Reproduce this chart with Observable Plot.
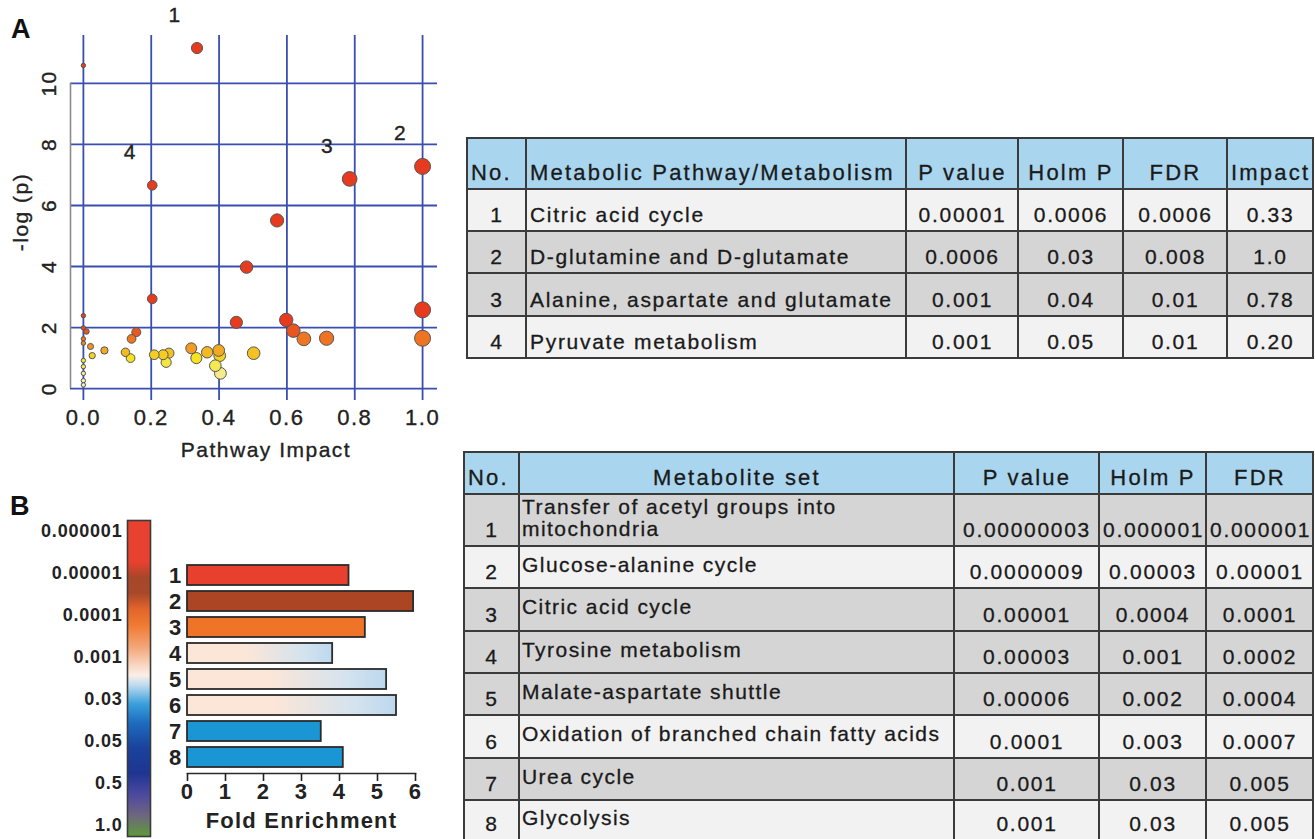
<!DOCTYPE html>
<html>
<head>
<meta charset="utf-8">
<script src="https://cdn.jsdelivr.net/npm/d3@7"></script>
<script src="https://cdn.jsdelivr.net/npm/@observablehq/plot@0.6"></script>
<style>
html,body{margin:0;padding:0;background:#fff;}
body{font-family:"Liberation Sans",Arial,Helvetica,sans-serif;color:#1e1e1e;}
#root{position:relative;width:1315px;height:839px;overflow:hidden;}
#root > *{position:absolute;}
.panel{font-weight:bold;font-size:27px;line-height:1;color:#111;}
table{border-collapse:collapse;table-layout:fixed;font-size:21px;letter-spacing:1.7px;color:#1a1a1a;-webkit-text-stroke:0.3px #1a1a1a;}
table td, table th{border:2px solid #3b3b3b;padding:0 2px 4px 3px;vertical-align:bottom;white-space:nowrap;overflow:visible;font-weight:normal;line-height:22px;box-sizing:border-box;}
table th{background:#a9d5ee;font-size:22px;letter-spacing:2.2px;}
.c{text-align:center;}
.l{text-align:left;}
tr.g td{background:#d5d5d5;}
tr.w td{background:#f2f2f2;}
td.nm{vertical-align:middle;padding:0 0 5px 2px;letter-spacing:1.45px;}
#plotA text{stroke:#222;stroke-width:0.35px;}
</style>
</head>
<body>
<svg width="0" height="0" style="position:absolute">
<defs>
<linearGradient id="cbar" x1="0" y1="0" x2="0" y2="1">
<stop offset="0" stop-color="#e8412f"/>
<stop offset="0.13" stop-color="#e8412f"/>
<stop offset="0.18" stop-color="#a8462a"/>
<stop offset="0.23" stop-color="#a8482a"/>
<stop offset="0.28" stop-color="#e2642c"/>
<stop offset="0.33" stop-color="#f07a30"/>
<stop offset="0.40" stop-color="#f3a578"/>
<stop offset="0.46" stop-color="#f8d8c4"/>
<stop offset="0.49" stop-color="#fbeee6"/>
<stop offset="0.52" stop-color="#c0dcf0"/>
<stop offset="0.58" stop-color="#3aa0dc"/>
<stop offset="0.64" stop-color="#1d6cc0"/>
<stop offset="0.72" stop-color="#1a429c"/>
<stop offset="0.80" stop-color="#1e3592"/>
<stop offset="0.87" stop-color="#4f4a9e"/>
<stop offset="0.93" stop-color="#6e6482"/>
<stop offset="1" stop-color="#5e9a38"/>
</linearGradient>
<linearGradient id="fade" x1="0" y1="0" x2="1" y2="0">
<stop offset="0" stop-color="#fbe6d8"/>
<stop offset="0.42" stop-color="#fbe6d8"/>
<stop offset="0.8" stop-color="#d4e3ef"/>
<stop offset="1" stop-color="#bcd8ee"/>
</linearGradient>
</defs>
</svg>
<div id="root">
  <div class="panel" style="left:11px;top:16px">A</div>
  <div class="panel" style="left:10px;top:493px">B</div>
</div>
<script>
// ---------- Panel A: pathway impact scatter ----------
const impactA = [0.335, 0.0, 0.203, 0.203, 0.481, 0.571, 0.785, 1.0, 1.0, 1.0, 0.451, 0.598, 0.619, 0.65, 0.717, 0.502,
  0.0, 0.0, 0.009, 0.0, 0.0, 0.0, 0.0, 0.0, 0.0, 0.0, 0.021, 0.026, 0.062, 0.124, 0.139, 0.142, 0.156,
  0.209, 0.235, 0.252, 0.244, 0.318, 0.333, 0.365, 0.399, 0.402, 0.389, 0.404];
const logPA = [11.16, 10.59, 6.66, 2.94, 3.98, 5.51, 6.87, 7.28, 2.58, 1.65, 2.17, 2.25, 1.90, 1.63, 1.65, 1.16,
  2.39, 1.99, 1.87, 1.63, 1.49, 0.92, 0.72, 0.50, 0.26, 0.12, 1.38, 1.08, 1.25, 1.19, 1.00, 1.63, 1.85,
  1.11, 1.11, 1.16, 0.86, 1.32, 1.00, 1.19, 1.25, 1.08, 0.75, 0.50];
const labelA = ["1", "", "4", "", "", "", "3", "2"];
const xTicksA = [0, 0.2, 0.4, 0.6, 0.8, 1.0];
const yTicksA = [0, 2, 4, 6, 8, 10];

// ---------- Panel B: enrichment bars ----------
const setNo = ["1", "2", "3", "4", "5", "6", "7", "8"];
const foldEnrichment = [4.25, 5.95, 4.68, 3.82, 5.24, 5.5, 3.52, 4.1];
const barColors = ["#e8402e", "#ac4524", "#ef7428", "url(#fade)", "url(#fade)", "url(#fade)", "#1a96d4", "#1a96d4"];
const xTicksB = [0, 1, 2, 3, 4, 5, 6];
const colorbarLabels = ["0.000001", "0.00001", "0.0001", "0.001", "0.03", "0.05", "0.5", "1.0"];

// ---------- Table 1 ----------
const pathHeaders = ["No.", "Metabolic Pathway/Metabolism", "P value", "Holm P", "FDR", "Impact"];
const pathNo = ["1", "2", "3", "4"];
const pathName = ["Citric acid cycle", "D-glutamine and D-glutamate", "Alanine, aspartate and glutamate", "Pyruvate metabolism"];
const pathP = ["0.00001", "0.0006", "0.001", "0.001"];
const pathHolm = ["0.0006", "0.03", "0.04", "0.05"];
const pathFDR = ["0.0006", "0.008", "0.01", "0.01"];
const pathImpact = ["0.33", "1.0", "0.78", "0.20"];

// ---------- Table 2 ----------
const setHeaders = ["No.", "Metabolite set", "P value", "Holm P", "FDR"];
const setName = ["Transfer of acetyl groups into mitochondria", "Glucose-alanine cycle", "Citric acid cycle", "Tyrosine metabolism",
  "Malate-aspartate shuttle", "Oxidation of branched chain fatty acids", "Urea cycle", "Glycolysis"];
const setP = ["0.00000003", "0.0000009", "0.00001", "0.00003", "0.00006", "0.0001", "0.001", "0.001"];
const setHolm = ["0.000001", "0.00003", "0.0004", "0.001", "0.002", "0.003", "0.03", "0.03"];
const setFDR = ["0.000001", "0.00001", "0.0001", "0.0002", "0.0004", "0.0007", "0.005", "0.005"];

const root = document.getElementById("root");
const FONT = "'Liberation Sans', Arial, Helvetica, sans-serif";

// ----- Plot A -----
const pts = impactA.map((x, i) => ({x, y: logPA[i], label: labelA[i] || ""}));
const plotA = Plot.plot({
  width: 450, height: 470,
  marginLeft: 70, marginRight: 13, marginTop: 35, marginBottom: 70,
  x: {domain: [-0.038, 1.044], axis: null},
  y: {domain: [-0.39, 11.57], axis: null},
  r: {type: "sqrt", domain: [0, 1], range: [2.2, 8]},
  color: {type: "linear", domain: [0.3, 1.0, 1.12, 1.3, 1.65, 2.1],
          range: ["#f4efb8", "#f6e21f", "#f5cb22", "#f19c24", "#ee7322", "#e63b1e"], clamp: true},
  style: {fontFamily: FONT, background: "transparent", color: "#222", letterSpacing: "1.5px", overflow: "visible"},
  marks: [
    Plot.ruleX(xTicksA, {y1: -0.39, y2: 11.57, stroke: "#3a4db0", strokeWidth: 1.8}),
    Plot.ruleY(yTicksA, {x1: -0.038, x2: 1.044, stroke: "#3a4db0", strokeWidth: 1.8}),
    Plot.ruleX([-0.038], {y1: 0, y2: 10, stroke: "#8a8a8a", strokeWidth: 1.6}),
    Plot.dot(pts, {x: "x", y: "y", r: "x", fill: "y", stroke: "#555", strokeWidth: 1}),
    Plot.text(pts.filter(d => d.label), {x: "x", y: "y", text: "label", dx: -22, dy: -33, fontSize: 21}),
    Plot.text(xTicksA, {x: d => d, y: -0.39, text: d => d.toFixed(1), dy: 17, fontSize: 22}),
    Plot.text(yTicksA, {x: -0.038, y: d => d, text: d => String(d), rotate: -90, dx: -21, fontSize: 21}),
    Plot.text(["Pathway Impact"], {text: d => d, frameAnchor: "bottom", textAnchor: "middle", lineAnchor: "middle", dx: 12, dy: 50, fontSize: 21}),
    Plot.text(["-log (p)"], {text: d => d, frameAnchor: "left", textAnchor: "middle", lineAnchor: "middle", rotate: -90, dx: -49, dy: -6, fontSize: 21})
  ]
});
plotA.id = "plotA";
plotA.style.left = "0px"; plotA.style.top = "0px";
root.appendChild(plotA);

// ----- Colorbar -----
const cb = Plot.plot({
  width: 160, height: 339,
  marginLeft: 127, marginRight: 10, marginTop: 20, marginBottom: 3,
  y: {type: "point", domain: colorbarLabels, inset: 8, padding: 0},
  style: {fontFamily: FONT, background: "transparent", color: "#222", fontWeight: "bold", letterSpacing: "0.8px"},
  marks: [
    Plot.frame({fill: "url(#cbar)", stroke: "#3a3a3a", strokeWidth: 1.6}),
    Plot.axisY({tickSize: 0, tickPadding: 5, fontSize: 18, label: null})
  ]
});
cb.style.left = "0px"; cb.style.top = "500px";
root.appendChild(cb);

// ----- Bars -----
const barData = setNo.map((k, i) => ({label: k, value: foldEnrichment[i], color: barColors[i]}));
const bars = Plot.plot({
  width: 270, height: 294,
  marginLeft: 27, marginRight: 15, marginTop: 13.5, marginBottom: 66,
  x: {domain: [0, 6]},
  y: {type: "band", domain: setNo, paddingInner: 0.22, paddingOuter: 0.11},
  style: {fontFamily: FONT, background: "transparent", color: "#222", fontWeight: "bold", letterSpacing: "1.2px", overflow: "visible"},
  marks: [
    Plot.barX(barData, {x: "value", y: "label", fill: "color", stroke: "#2b2b2b", strokeWidth: 1.8}),
    Plot.frame({anchor: "bottom", stroke: "#2b2b2b", strokeWidth: 1.6}),
    Plot.axisX({ticks: xTicksB, tickFormat: d => String(d), tickSize: 8, tickPadding: 2, fontSize: 22, label: null, strokeWidth: 1.6}),
    Plot.axisY({tickSize: 0, tickPadding: 5, fontSize: 22, label: null}),
    Plot.text(["Fold Enrichment"], {text: d => d, frameAnchor: "bottom", textAnchor: "middle", lineAnchor: "middle", dy: 47, fontSize: 22})
  ]
});
bars.style.left = "160px"; bars.style.top = "545px";
root.appendChild(bars);

// ----- Tables -----
function makeTable({left, top, widths, headers, headAlign, headHeight, columns, bodyAlign, rowHeights, rowClasses, nameCol}) {
  const t = document.createElement("table");
  t.style.left = left + "px"; t.style.top = top + "px";
  t.style.width = widths.reduce((a, b) => a + b, 0) + "px";
  const cg = document.createElement("colgroup");
  widths.forEach(w => { const c = document.createElement("col"); c.style.width = w + "px"; cg.appendChild(c); });
  t.appendChild(cg);
  const hr = document.createElement("tr");
  hr.style.height = headHeight + "px";
  headers.forEach((h, j) => { const th = document.createElement("th"); th.textContent = h; th.className = headAlign[j]; hr.appendChild(th); });
  t.appendChild(hr);
  const n = columns[0].length;
  for (let i = 0; i < n; i++) {
    const tr = document.createElement("tr");
    tr.className = rowClasses[i];
    tr.style.height = rowHeights[i] + "px";
    columns.forEach((col, j) => {
      const td = document.createElement("td");
      td.textContent = col[i];
      td.className = bodyAlign[j] + (j === nameCol ? " nm" : "");
      tr.appendChild(td);
    });
    t.appendChild(tr);
  }
  root.appendChild(t);
  return t;
}

makeTable({
  left: 466, top: 137,
  widths: [59, 380, 112, 105, 104, 86],
  headers: pathHeaders, headAlign: ["l", "l", "c", "c", "c", "c"], headHeight: 51,
  columns: [pathNo, pathName, pathP, pathHolm, pathFDR, pathImpact],
  bodyAlign: ["c", "l", "c", "c", "c", "c"],
  rowHeights: [42, 42, 43, 42], rowClasses: ["w", "g", "g", "w"], nameCol: -1
});

const t2 = makeTable({
  left: 463, top: 451,
  widths: [55, 435, 145, 107, 107],
  headers: setHeaders, headAlign: ["l", "c", "c", "c", "c"], headHeight: 42,
  columns: [setNo, setName, setP, setHolm, setFDR],
  bodyAlign: ["c", "l", "c", "c", "c"],
  rowHeights: [52, 42, 43, 42, 42, 43, 42, 40], rowClasses: ["g", "w", "g", "g", "g", "w", "g", "w"], nameCol: 1
});
// first metabolite-set name is shown on two lines, as in the figure
const firstName = t2.querySelector("td.nm");
firstName.style.whiteSpace = "normal";
firstName.style.paddingRight = "90px";
</script>
</body>
</html>
